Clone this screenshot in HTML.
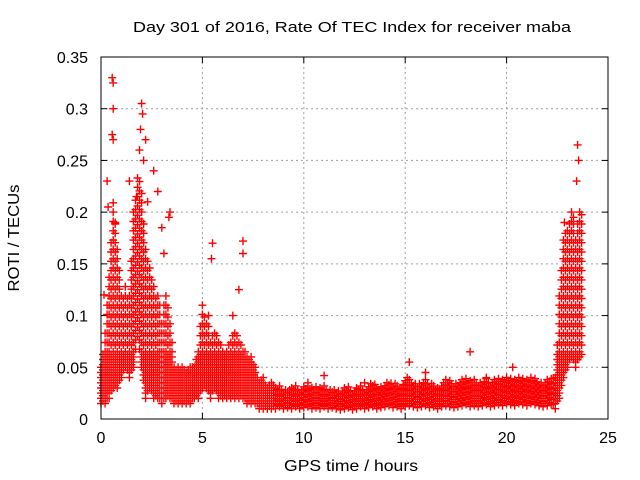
<!DOCTYPE html>
<html><head><meta charset="utf-8"><style>
body{margin:0;background:#fff}
svg{display:block;font-family:"Liberation Sans",sans-serif}
</style></head><body>
<svg id="chart" width="640" height="480">
<text x="352" y="32" font-size="15" text-anchor="middle" fill="#000" textLength="438" lengthAdjust="spacingAndGlyphs">Day 301 of 2016, Rate Of TEC Index for receiver maba</text>
<text x="351" y="471" font-size="16" text-anchor="middle" fill="#000" textLength="134" lengthAdjust="spacingAndGlyphs">GPS time / hours</text>
<text x="19" y="238" font-size="16" text-anchor="middle" fill="#000" textLength="107" lengthAdjust="spacingAndGlyphs" transform="rotate(-90 19 238)">ROTI / TECUs</text>
<g id="grid"></g>
<g id="ticks"></g>
<g id="marks"></g>
<rect x="101" y="57" width="507" height="362" fill="none" stroke="#000" stroke-width="1"></rect>
</svg>
<script>
const xTicks=[0,5,10,15,20,25];
const yTicks=[0,0.05,0.1,0.15,0.2,0.25,0.3,0.35];
const yTickLabels=["0","0.05","0.1","0.15","0.2","0.25","0.3","0.35"];
const hours=[0,0.2,0.4,0.6,0.8,1,1.2,1.4,1.6,1.8,2,2.2,2.4,2.6,2.8,3,3.2,3.4,3.6,3.8,4,4.2,4.4,4.6,4.8,5,5.2,5.4,5.6,5.8,6,6.2,6.4,6.6,6.8,7,7.2,7.4,7.6,7.8,8,8.2,8.4,8.6,8.8,9,9.2,9.4,9.6,9.8,10,10.2,10.4,10.6,10.8,11,11.2,11.4,11.6,11.8,12,12.2,12.4,12.6,12.8,13,13.2,13.4,13.6,13.8,14,14.2,14.4,14.6,14.8,15,15.2,15.4,15.6,15.8,16,16.2,16.4,16.6,16.8,17,17.2,17.4,17.6,17.8,18,18.2,18.4,18.6,18.8,19,19.2,19.4,19.6,19.8,20,20.2,20.4,20.6,20.8,21,21.2,21.4,21.6,21.8,22,22.2,22.4,22.6,22.8,23,23.2,23.4,23.6];
const valLow=[.015,.015,.02,.03,.03,.04,.05,.04,.05,.08,.05,.02,.03,.02,.02,.015,.02,.02,.015,.015,.015,.015,.015,.02,.02,.03,.03,.02,.03,.02,.02,.02,.02,.02,.02,.02,.015,.015,.015,.01,.01,.01,.01,.01,.012,.01,.011,.01,.012,.01,.011,.012,.01,.011,.01,.012,.01,.011,.01,.009,.01,.011,.009,.01,.012,.01,.011,.012,.01,.011,.012,.013,.011,.012,.01,.012,.013,.012,.011,.012,.013,.011,.012,.01,.012,.013,.012,.011,.012,.013,.014,.012,.013,.012,.013,.014,.012,.013,.014,.013,.015,.014,.013,.015,.014,.013,.015,.014,.013,.012,.013,.014,.01,.02,.04,.05,.06,.05,.06];
const valHigh=[.05,.09,.14,.21,.17,.12,.13,.12,.2,.24,.22,.17,.15,.13,.12,.1,.12,.1,.05,.05,.05,.045,.05,.05,.07,.11,.1,.08,.09,.08,.07,.07,.08,.09,.08,.07,.06,.06,.05,.035,.04,.03,.035,.03,.032,.028,.03,.03,.034,.029,.031,.035,.03,.033,.03,.036,.028,.03,.027,.028,.031,.033,.027,.03,.034,.029,.032,.036,.031,.032,.035,.036,.033,.035,.031,.04,.042,.036,.034,.035,.038,.034,.035,.031,.035,.039,.037,.034,.036,.038,.04,.037,.039,.035,.036,.04,.036,.039,.04,.038,.042,.04,.039,.042,.04,.038,.042,.04,.036,.035,.038,.04,.04,.12,.18,.19,.2,.18,.2];
const spikeHours=[0.55,0.6,0.6,0.55,0.6,1.4,2.0,2.05,1.95,2.2,2.6,2.8,3.4,3.0,5.5,5.45,7.0,7.0,6.8,15.2,18.2,23.5,23.55,23.45,23.3,22.85,11,13,16,20.3,19,10.2,0.3,0.35,1.75,0.15,2.1,3.1,1.9,2.3,3.35,0.7,5.3,6.5];
const spikeValues=[.33,.325,.3,.275,.27,.23,.305,.295,.28,.27,.24,.22,.2,.185,.17,.155,.172,.16,.125,.055,.065,.265,.25,.23,.195,.19,.042,.035,.045,.05,.04,.035,.23,.205,.215,.12,.25,.16,.26,.21,.195,.19,.1,.1];

const X0=101,X1=608,Y0=419,Y1=57;
const sx=v=>X0+v/25*(X1-X0);
const sy=v=>Y0-v/0.35*(Y0-Y1);
const NS="http://www.w3.org/2000/svg";
const grid=document.getElementById('grid'),ticks=document.getElementById('ticks'),marks=document.getElementById('marks');
function mk(tag,a,p){const e=document.createElementNS(NS,tag);for(const k in a)e.setAttribute(k,a[k]);p.appendChild(e);return e;}
xTicks.forEach((t,i)=>{
  const x=sx(t);
  if(i>0&&i<xTicks.length-1){const g=mk('line',{x1:x,x2:x,y1:Y1,y2:Y0,stroke:'#a0a0a0','stroke-dasharray':'2,3'},grid);
  
  }
  mk('line',{x1:x,x2:x,y1:Y0,y2:Y0-6,stroke:'#000'},ticks);
  mk('line',{x1:x,x2:x,y1:Y1,y2:Y1+6,stroke:'#000'},ticks);
  const l=mk('text',{x:x,y:443,'font-size':16,'text-anchor':'middle'},ticks);l.textContent=t;
  
  
});
yTicks.forEach((t,i)=>{
  const y=sy(t);
  if(i>0&&i<yTicks.length-1){const g=mk('line',{x1:X0,x2:X1,y1:y,y2:y,stroke:'#a0a0a0','stroke-dasharray':'2,3'},grid);
  
  }
  mk('line',{x1:X0,x2:X0+6,y1:y,y2:y,stroke:'#000'},ticks);
  mk('line',{x1:X1,x2:X1-6,y1:y,y2:y,stroke:'#000'},ticks);
  const l=mk('text',{x:88,y:y+6,'font-size':16,'text-anchor':'end'},ticks);l.textContent=yTickLabels[i];
  
  
});
let d='';
function plus(t,v){const x=sx(t),y=sy(v);d+=`M${(x-4).toFixed(1)} ${y.toFixed(1)}h8M${x.toFixed(1)} ${(y-4).toFixed(1)}v8`;}
const stepFor=v=>v>0.06?0.009:0.005;
hours.forEach((h,i)=>{
  const lo=valLow[i],hi=valHigh[i];
  const lo2=valLow[i+1]!==undefined?valLow[i+1]:lo,hi2=valHigh[i+1]!==undefined?valHigh[i+1]:hi;
  for(let v=lo;v<=hi+1e-9;v+=stepFor(v))plus(h,v);
  const m1=(lo+lo2)/2,m2=(hi+hi2)/2;
  for(let v=m1+0.0025;v<=m2+1e-9;v+=stepFor(v))plus(h+0.1,v);
});
spikeHours.forEach((h,i)=>plus(h,spikeValues[i]));
const p=mk('path',{d:d,stroke:'#ff0000','stroke-width':1.4,fill:'none'},marks);


</script>
</body></html>
